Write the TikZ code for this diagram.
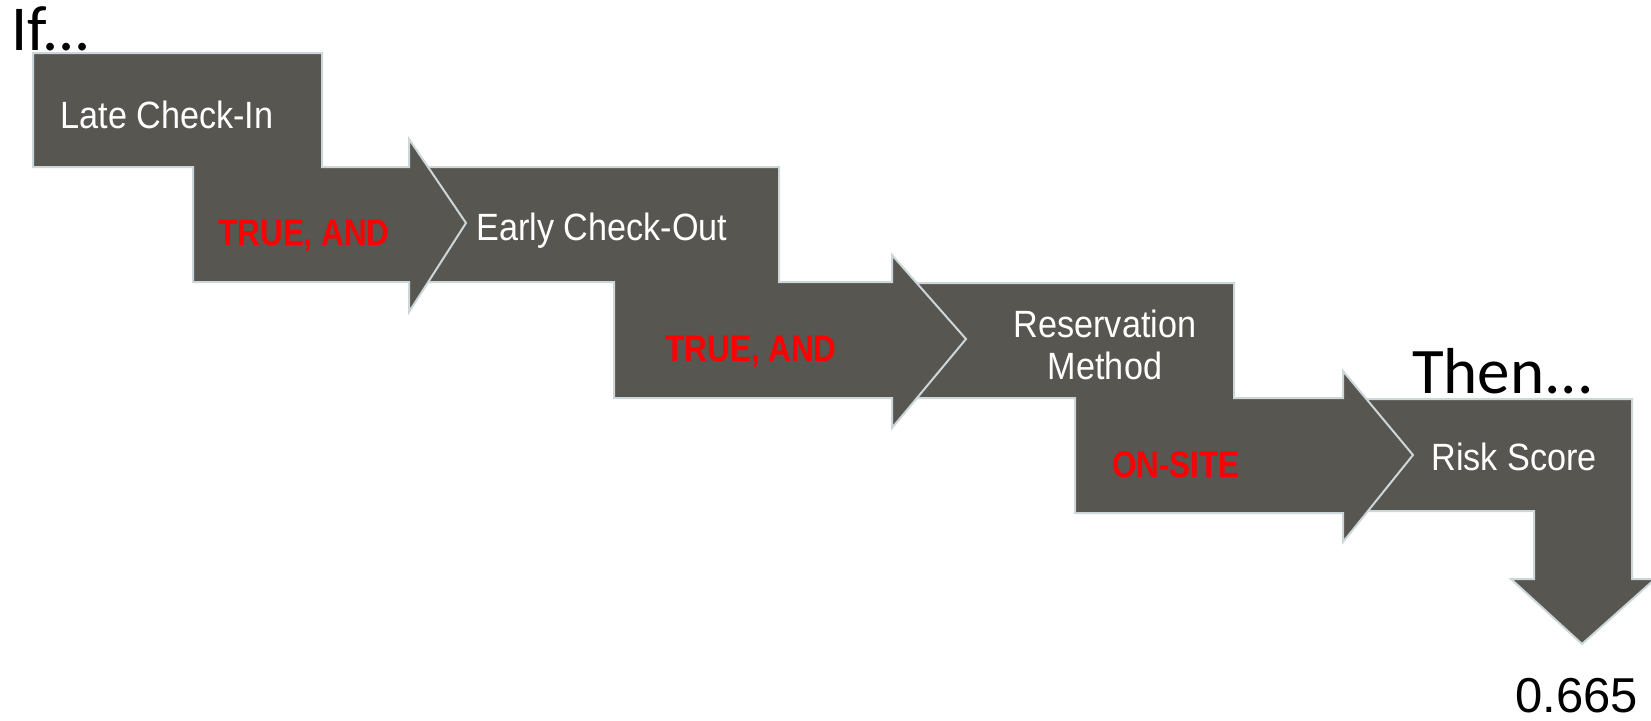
\documentclass[tikz,border=0pt]{standalone}
\usepackage{fontspec}
\setmainfont{Liberation Sans}
\newfontfamily\lblfont[FakeStretch=0.9]{Liberation Sans}
\newfontfamily\redfont[FakeStretch=0.85]{Liberation Sans}
\newfontfamily\bigfont{Carlito}
\definecolor{boxfill}{RGB}{87,86,81}
\definecolor{boxline}{RGB}{205,215,218}
\definecolor{condred}{RGB}{255,0,0}
\begin{document}
\begin{tikzpicture}[x=1pt,y=-1pt,
  shapefill/.style={fill=boxfill, draw=boxline, line width=2pt, line join=miter},
  lbl/.style={text=white, font=\lblfont\fontsize{38}{44}\selectfont, anchor=base, inner sep=0pt},
  cond/.style={text=condred, font=\redfont\bfseries\fontsize{37}{44}\selectfont, anchor=base, inner sep=0pt},
  big/.style={text=black, inner sep=0pt}]
\useasboundingbox (0,0) rectangle (1651,720);
% shape 4: Risk Score box with down arrow
\draw[shapefill] (1360,399) -- (1632,399) -- (1632,579) -- (1655,579) -- (1582,644)
  -- (1511,579) -- (1534,579) -- (1534,511) -- (1360,511) -- cycle;
% shape 3: Reservation Method box with arrow
\draw[shapefill] (896,283) -- (1234,283) -- (1234,398) -- (1343,398) -- (1343,371)
  -- (1413,455) -- (1343,542) -- (1343,513) -- (1075,513) -- (1075,398) -- (896,398) -- cycle;
% shape 2: Early Check-Out box with arrow
\draw[shapefill] (412,167) -- (779,167) -- (779,282) -- (892,282) -- (892,255)
  -- (966,339) -- (892,428) -- (892,398) -- (614,398) -- (614,282) -- (412,282) -- cycle;
% shape 1: Late Check-In box with arrow
\draw[shapefill] (33,53) -- (322,53) -- (322,167) -- (409,167) -- (409,139)
  -- (466,223) -- (409,312) -- (409,282) -- (193,282) -- (193,167) -- (33,167) -- cycle;
% labels
\node[lbl] (l1) at (167,128) {Late Check-In};
\node[cond] (c1) at (304,245) {TRUE, AND};
\node[lbl] (l2) at (602,240) {Early Check-Out};
\node[cond] (c2) at (751,361) {TRUE, AND};
\node[lbl] (l3a) at (1105,337) {Reservation};
\node[lbl] (l3b) at (1105,379) {Method};
\node[cond] (c3) at (1176,477) {ON-SITE};
\node[lbl] (l4) at (1514,470) {Risk Score};
\node[big, anchor=base west, font=\bigfont\fontsize{64}{70}\selectfont] (if) at (11,50) {If...};
\node[big, anchor=base west, font=\bigfont\fontsize{65}{70}\selectfont] (then) at (1412,393) {Then...};
\node[big, anchor=base west, font=\fontsize{49}{56}\selectfont] (val) at (1515,712) {0.665};
\end{tikzpicture}
\end{document}
